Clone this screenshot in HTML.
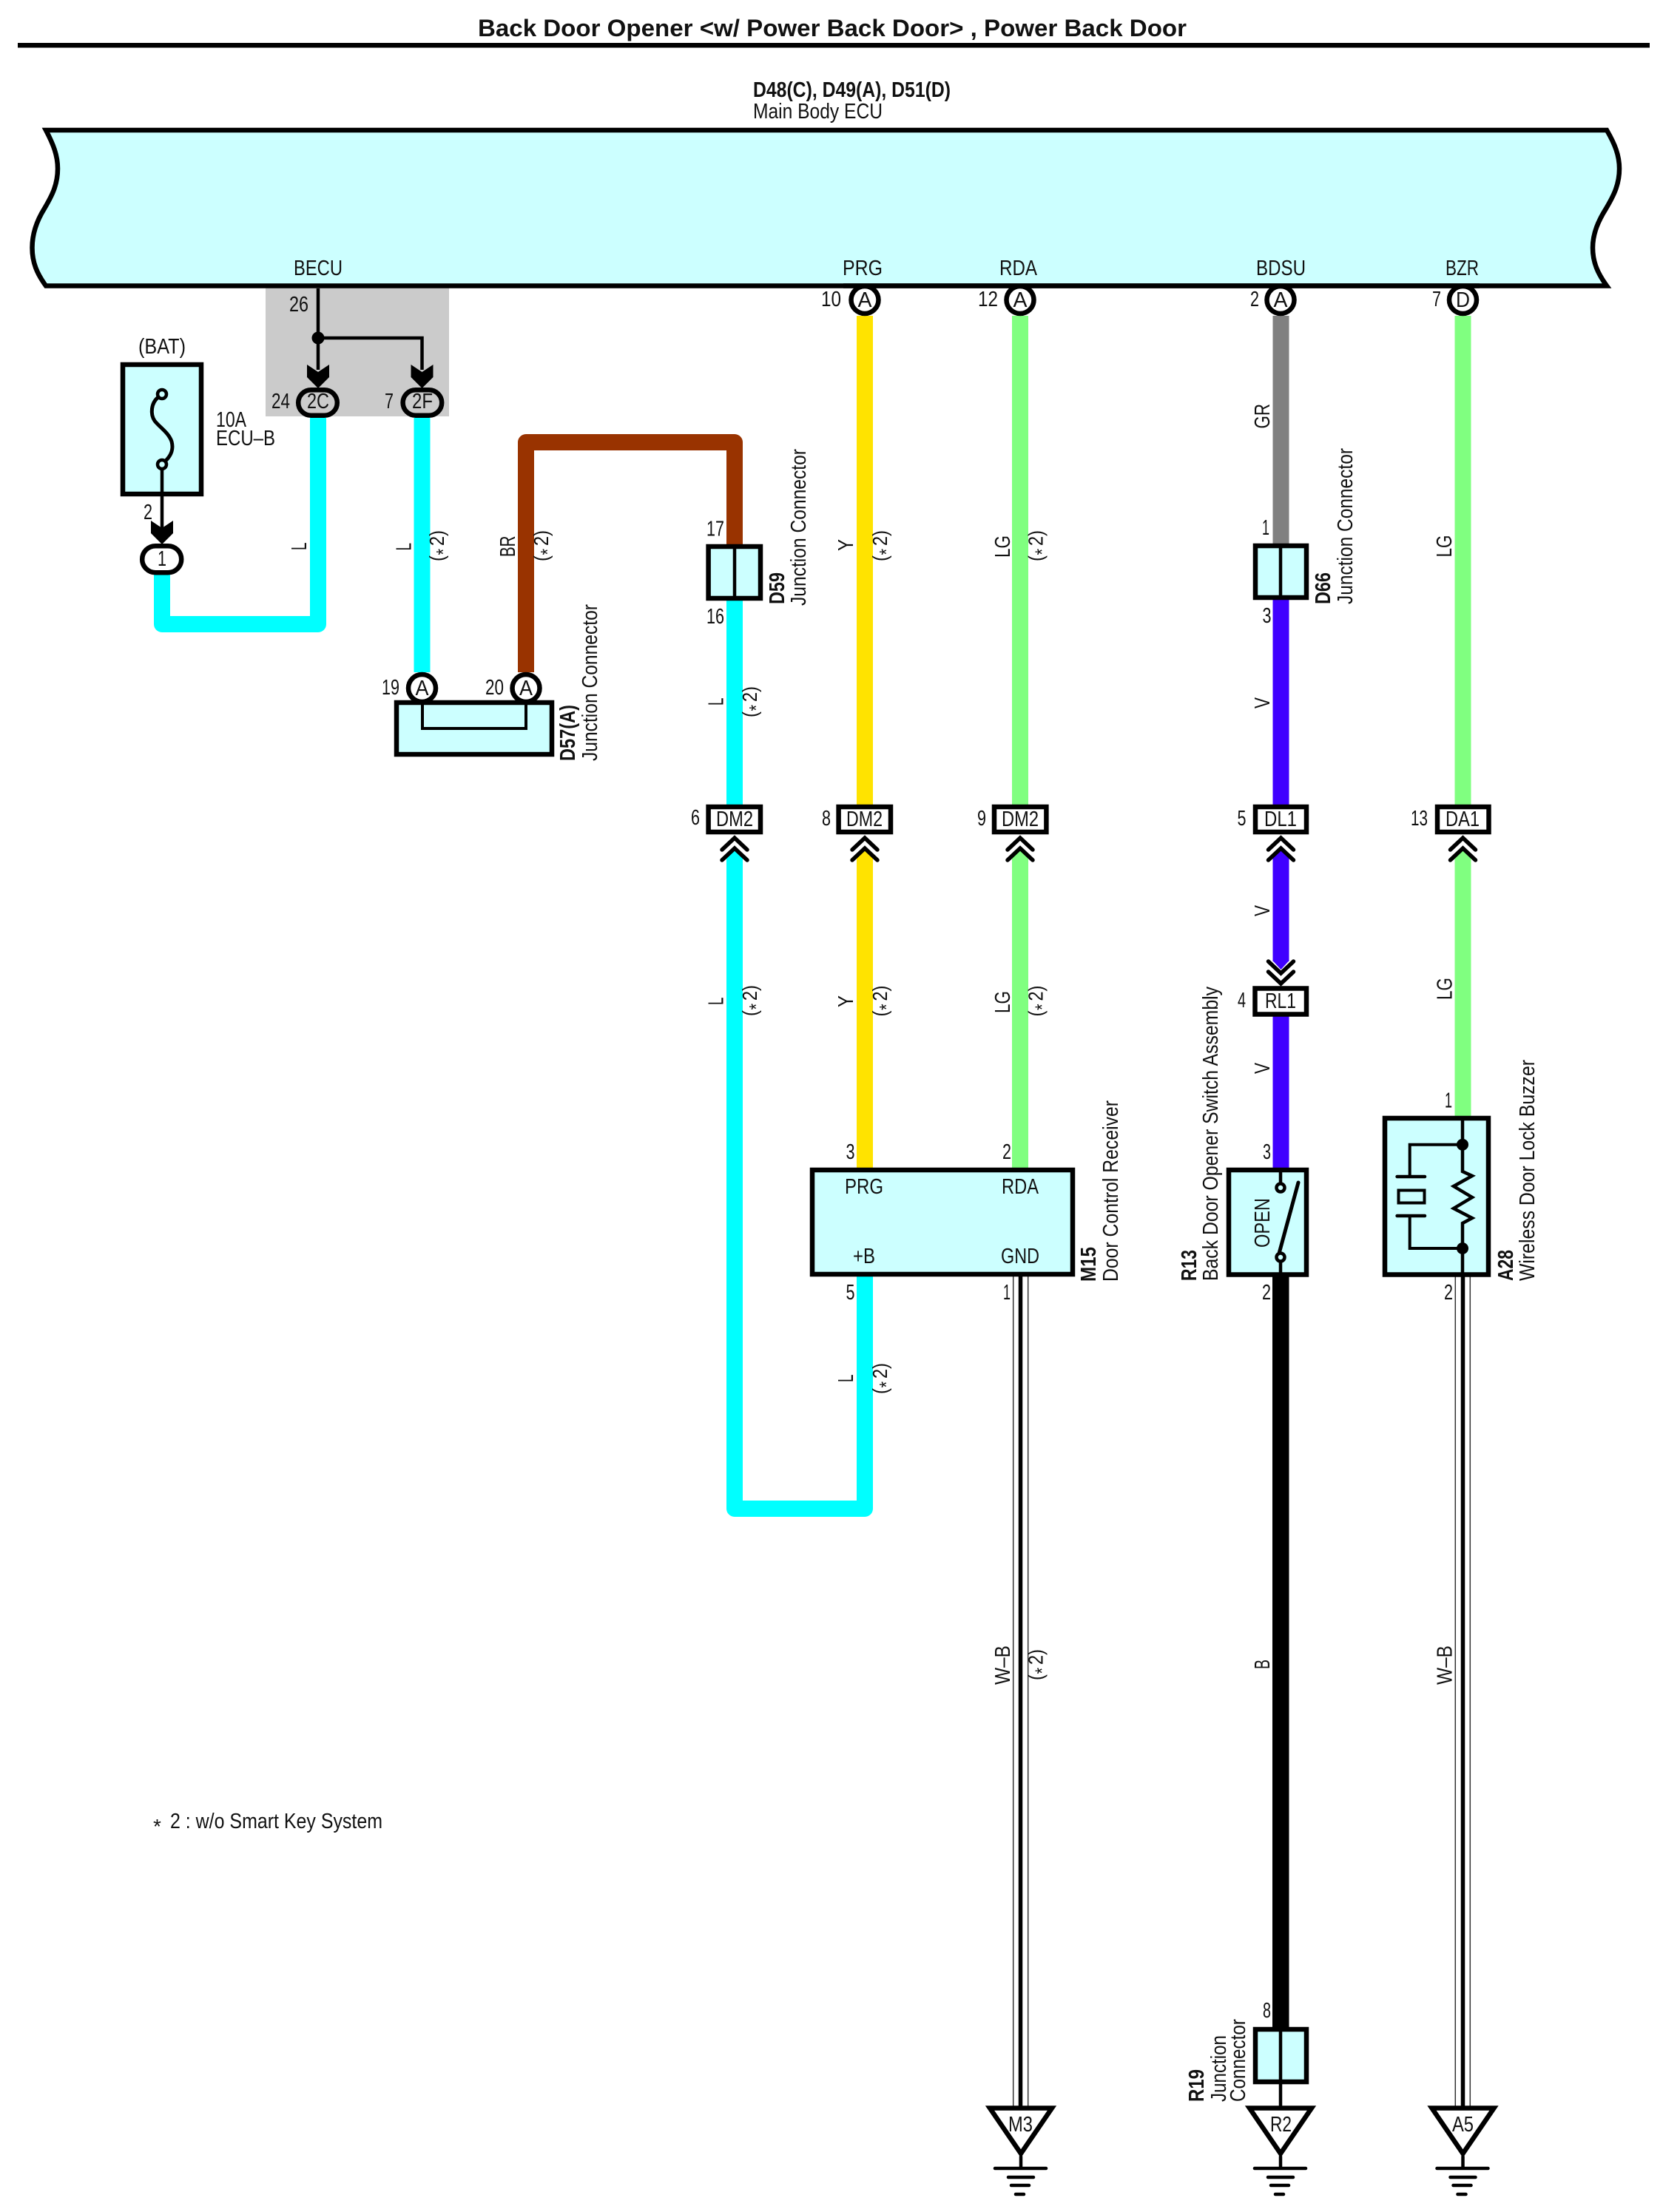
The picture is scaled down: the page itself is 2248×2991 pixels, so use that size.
<!DOCTYPE html>
<html lang="en">
<head>
<meta charset="utf-8">
<title>Back Door Opener</title>
<style>
html,body{margin:0;padding:0;background:#fff}
svg{display:block}
text{font-family:"Liberation Sans",Arial,sans-serif;font-size:29px;fill:#111}
.b{font-weight:bold}
.m{text-anchor:middle}
.w{fill:none;stroke-width:22;stroke-linejoin:round}
.x{stroke:#000;stroke-width:6.5;stroke-linejoin:miter}
.c{fill:none;stroke:#000;stroke-width:5.5;stroke-linecap:round}
.g{stroke:#000;stroke-width:4.5;stroke-linecap:round;fill:none}
.s{font-size:28px}
.a{font-size:26px}
</style>
</head>
<body>
<svg xmlns="http://www.w3.org/2000/svg" width="2248" height="2991" viewBox="0 0 2248 2991">
<rect width="2248" height="2991" fill="#fff"/>

<!-- title -->
<text class="b" x="646" y="49" style="font-size:32px" textLength="958" lengthAdjust="spacingAndGlyphs">Back Door Opener &lt;w/ Power Back Door&gt; , Power Back Door</text>
<rect x="24" y="58" width="2206" height="6.5" fill="#000"/>
<text class="b" x="1018" y="131" textLength="267" lengthAdjust="spacingAndGlyphs">D48(C), D49(A), D51(D)</text>
<text x="1018" y="160" textLength="175" lengthAdjust="spacingAndGlyphs">Main Body ECU</text>

<!-- grey shade -->
<rect x="359" y="388" width="248" height="175" fill="#cbcbcb"/>

<!-- wires -->
<path class="w" stroke="#00ffff" d="M219 777V844H430V565"/>
<path class="w" stroke="#00ffff" d="M570.5 565V909"/>
<path class="w" stroke="#993300" d="M711 909V598H993V736"/>
<path class="w" stroke="#00ffff" d="M993 812V1088"/>
<path class="w" stroke="#ffe300" d="M1169 427V1088"/>
<path class="w" stroke="#80ff80" d="M1379 427V1088"/>
<path class="w" stroke="#808080" d="M1731.5 427V735"/>
<path class="w" stroke="#4000ff" d="M1731.5 811V1088"/>
<path class="w" stroke="#80ff80" d="M1977.5 427V1088"/>

<!-- lower wires with tips -->
<path class="w" stroke="#00ffff" d="M993 1160V2040H1169V1726"/>
<polygon fill="#00ffff" points="982,1161 993,1150 1004,1161"/>
<path class="w" stroke="#ffe300" d="M1169 1160V1579"/>
<polygon fill="#ffe300" points="1158,1161 1169,1150 1180,1161"/>
<path class="w" stroke="#80ff80" d="M1379 1160V1579"/>
<polygon fill="#80ff80" points="1368,1161 1379,1150 1390,1161"/>
<path class="w" stroke="#4000ff" d="M1731.5 1160V1300"/>
<polygon fill="#4000ff" points="1720.5,1161 1731.5,1150 1742.5,1161"/>
<polygon fill="#4000ff" points="1720.5,1299 1742.5,1299 1731.5,1311"/>
<path class="w" stroke="#4000ff" d="M1731.5 1374V1579"/>
<path class="w" stroke="#80ff80" d="M1977.5 1160V1509"/>
<polygon fill="#80ff80" points="1966.5,1161 1977.5,1150 1988.5,1161"/>
<rect x="1720" y="1726" width="22.5" height="1016" fill="#000"/>

<!-- W-B wires -->
<path d="M1369.7 1726V2848M1389.7 1726V2848M1967.3 1726V2848M1987.3 1726V2848" stroke="#333" stroke-width="1.5" fill="none"/>
<path d="M1379.5 1726V2848M1977.5 1726V2848" stroke="#000" stroke-width="5.5" fill="none"/>

<!-- ECU -->
<path class="x" fill="#ccffff" d="M62 176H2172C2183 195 2189 210 2189 228C2189 250 2181 265 2171 282C2161 298 2153 315 2153 335C2153 355 2160 370 2172 386.5H62C50 370 43.5 355 43.5 335C43.5 315 50 298 60 282C70 265 78 250 78 228C78 210 72 195 62 176Z"/>
<text x="397" y="372" textLength="66" lengthAdjust="spacingAndGlyphs">BECU</text>
<text x="1139" y="372" textLength="54" lengthAdjust="spacingAndGlyphs">PRG</text>
<text x="1351" y="372" textLength="51" lengthAdjust="spacingAndGlyphs">RDA</text>
<text x="1698" y="372" textLength="67" lengthAdjust="spacingAndGlyphs">BDSU</text>
<text x="1954" y="372" textLength="45" lengthAdjust="spacingAndGlyphs">BZR</text>

<!-- BECU branch -->
<path d="M430 390V500M430 457H570.5V500" stroke="#000" stroke-width="4.5" fill="none"/>
<circle cx="430" cy="457" r="8.5" fill="#000"/>
<text x="391" y="421" textLength="26" lengthAdjust="spacingAndGlyphs">26</text>
<polygon points="415,493 430,503 445,493 445,510 430,525 415,510" fill="#000"/>
<polygon points="555.5,493 570.5,503 585.5,493 585.5,510 570.5,525 555.5,510" fill="#000"/>
<rect x="403.2" y="527.2" width="52.6" height="34.6" rx="17.3" fill="#cbcbcb" class="x"/>
<rect x="544.6" y="527.2" width="52.6" height="34.6" rx="17.3" fill="#cbcbcb" class="x"/>
<text x="415" y="552" textLength="30" lengthAdjust="spacingAndGlyphs">2C</text>
<text x="557" y="552" textLength="28" lengthAdjust="spacingAndGlyphs">2F</text>
<text x="367" y="552" textLength="25" lengthAdjust="spacingAndGlyphs">24</text>
<text x="520" y="552" textLength="12" lengthAdjust="spacingAndGlyphs">7</text>

<!-- Fuse -->
<rect x="166" y="493" width="106" height="175" fill="#ccffff" class="x"/>
<path d="M214 537C204 545 203 560 209 569C216 578 228 585 232 597C235 608 231 616 224 623" fill="none" stroke="#000" stroke-width="5"/>
<circle cx="219" cy="533" r="6" fill="#ccffff" stroke="#000" stroke-width="4.5"/>
<circle cx="219" cy="628" r="6" fill="#ccffff" stroke="#000" stroke-width="4.5"/>
<path d="M219 634V715" stroke="#000" stroke-width="4.5"/>
<polygon points="204,704 219,714 234,704 234,721 219,736 204,721" fill="#000"/>
<rect x="192.2" y="738.2" width="53" height="36" rx="18" fill="#fff" class="x"/>
<text x="187" y="478" textLength="64" lengthAdjust="spacingAndGlyphs">(BAT)</text>
<text x="292" y="577" textLength="41" lengthAdjust="spacingAndGlyphs">10A</text>
<text x="292" y="602" textLength="80" lengthAdjust="spacingAndGlyphs">ECU–B</text>
<text x="194" y="702" textLength="12" lengthAdjust="spacingAndGlyphs">2</text>
<text x="213" y="765" textLength="12" lengthAdjust="spacingAndGlyphs">1</text>

<!-- ECU pins -->
<circle cx="1169" cy="405.5" r="18.5" fill="#fff" class="x"/>
<circle cx="1379" cy="405.5" r="18.5" fill="#fff" class="x"/>
<circle cx="1731" cy="405.5" r="18.5" fill="#fff" class="x"/>
<circle cx="1977.5" cy="405.5" r="18.5" fill="#fff" class="x"/>
<path d="M1140 386.5H2000" stroke="#000" stroke-width="6.5"/>
<text class="m" x="1169" y="415" textLength="19" lengthAdjust="spacingAndGlyphs">A</text>
<text class="m" x="1379" y="415" textLength="19" lengthAdjust="spacingAndGlyphs">A</text>
<text class="m" x="1731" y="415" textLength="19" lengthAdjust="spacingAndGlyphs">A</text>
<text class="m" x="1977.5" y="415" textLength="19" lengthAdjust="spacingAndGlyphs">D</text>
<text x="1110" y="414" textLength="27" lengthAdjust="spacingAndGlyphs">10</text>
<text x="1322" y="414" textLength="27" lengthAdjust="spacingAndGlyphs">12</text>
<text x="1690" y="414" textLength="12" lengthAdjust="spacingAndGlyphs">2</text>
<text x="1936" y="414" textLength="12" lengthAdjust="spacingAndGlyphs">7</text>

<!-- D57 -->
<rect x="536" y="950" width="210" height="70" fill="#ccffff" class="x"/>
<path d="M571 947V985H711V947" fill="none" stroke="#000" stroke-width="4"/>
<circle cx="570.5" cy="930.5" r="18.5" fill="#fff" class="x"/>
<circle cx="711" cy="930.5" r="18.5" fill="#fff" class="x"/>
<text class="m" x="570.5" y="940" textLength="18" lengthAdjust="spacingAndGlyphs">A</text>
<text class="m" x="711" y="940" textLength="18" lengthAdjust="spacingAndGlyphs">A</text>
<text x="516" y="939" textLength="24" lengthAdjust="spacingAndGlyphs">19</text>
<text x="656" y="939" textLength="25" lengthAdjust="spacingAndGlyphs">20</text>
<text class="b" transform="translate(777,1029) rotate(-90)" textLength="76" lengthAdjust="spacingAndGlyphs">D57(A)</text>
<text transform="translate(807,1029) rotate(-90)" textLength="212" lengthAdjust="spacingAndGlyphs">Junction Connector</text>

<!-- D59 -->
<rect x="957.6" y="739" width="70.4" height="70" fill="#ccffff" class="x"/>
<path d="M993 736V812" stroke="#000" stroke-width="4.5"/>
<text x="955" y="724.5" textLength="24" lengthAdjust="spacingAndGlyphs">17</text>
<text x="955" y="843" textLength="24" lengthAdjust="spacingAndGlyphs">16</text>
<text class="b" transform="translate(1060,817) rotate(-90)" textLength="43" lengthAdjust="spacingAndGlyphs">D59</text>
<text transform="translate(1089,819) rotate(-90)" textLength="212" lengthAdjust="spacingAndGlyphs">Junction Connector</text>

<!-- D66 -->
<rect x="1697" y="738" width="69" height="70" fill="#ccffff" class="x"/>
<path d="M1731 735V811" stroke="#000" stroke-width="4.5"/>
<text x="1706" y="723" textLength="10" lengthAdjust="spacingAndGlyphs">1</text>
<text x="1706.5" y="842" textLength="12" lengthAdjust="spacingAndGlyphs">3</text>
<text class="b" transform="translate(1798,817) rotate(-90)" textLength="43" lengthAdjust="spacingAndGlyphs">D66</text>
<text transform="translate(1828,817) rotate(-90)" textLength="211" lengthAdjust="spacingAndGlyphs">Junction Connector</text>

<!-- in-line connector boxes -->
<rect x="957.6" y="1091" width="70.4" height="34" fill="#fff" class="x"/>
<rect x="1133.6" y="1091" width="70.4" height="34" fill="#fff" class="x"/>
<rect x="1344" y="1091" width="70.4" height="34" fill="#fff" class="x"/>
<rect x="1697" y="1091" width="69" height="34" fill="#fff" class="x"/>
<rect x="1943" y="1091" width="69.5" height="34" fill="#fff" class="x"/>
<rect x="1696.5" y="1336.5" width="69.5" height="35" fill="#fff" class="x"/>
<text x="968" y="1117" textLength="50" lengthAdjust="spacingAndGlyphs">DM2</text>
<text x="1144" y="1117" textLength="49" lengthAdjust="spacingAndGlyphs">DM2</text>
<text x="1354" y="1117" textLength="50" lengthAdjust="spacingAndGlyphs">DM2</text>
<text x="1709" y="1117" textLength="44" lengthAdjust="spacingAndGlyphs">DL1</text>
<text x="1954" y="1117" textLength="46" lengthAdjust="spacingAndGlyphs">DA1</text>
<text x="1710" y="1363" textLength="42" lengthAdjust="spacingAndGlyphs">RL1</text>
<text x="934" y="1115" textLength="12" lengthAdjust="spacingAndGlyphs">6</text>
<text x="1111" y="1116" textLength="12" lengthAdjust="spacingAndGlyphs">8</text>
<text x="1321" y="1116" textLength="12" lengthAdjust="spacingAndGlyphs">9</text>
<text x="1672.5" y="1116" textLength="12" lengthAdjust="spacingAndGlyphs">5</text>
<text x="1907" y="1116" textLength="23" lengthAdjust="spacingAndGlyphs">13</text>
<text x="1673" y="1362" textLength="11" lengthAdjust="spacingAndGlyphs">4</text>

<!-- chevrons -->
<path class="c" d="M976 1149L993 1133L1010 1149M976 1163L993 1147L1010 1163"/>
<path class="c" d="M1152 1149L1169 1133L1186 1149M1152 1163L1169 1147L1186 1163"/>
<path class="c" d="M1362 1149L1379 1133L1396 1149M1362 1163L1379 1147L1396 1163"/>
<path class="c" d="M1714.5 1149L1731.5 1133L1748.5 1149M1714.5 1163L1731.5 1147L1748.5 1163"/>
<path class="c" d="M1960.5 1149L1977.5 1133L1994.5 1149M1960.5 1163L1977.5 1147L1994.5 1163"/>
<path class="c" d="M1714.5 1300L1731.5 1316L1748.5 1300M1714.5 1314L1731.5 1330L1748.5 1314"/>

<!-- M15 -->
<rect x="1098" y="1582" width="352" height="141" fill="#ccffff" class="x"/>
<text x="1142" y="1614" textLength="52" lengthAdjust="spacingAndGlyphs">PRG</text>
<text x="1354" y="1614" textLength="50" lengthAdjust="spacingAndGlyphs">RDA</text>
<text x="1153" y="1708" textLength="30" lengthAdjust="spacingAndGlyphs">+B</text>
<text x="1353" y="1708" textLength="52" lengthAdjust="spacingAndGlyphs">GND</text>
<text x="1143.5" y="1567" textLength="12" lengthAdjust="spacingAndGlyphs">3</text>
<text x="1355" y="1567" textLength="12" lengthAdjust="spacingAndGlyphs">2</text>
<text x="1143.5" y="1757" textLength="12" lengthAdjust="spacingAndGlyphs">5</text>
<text x="1356" y="1757" textLength="10" lengthAdjust="spacingAndGlyphs">1</text>
<text class="b" transform="translate(1481,1733) rotate(-90)" textLength="47" lengthAdjust="spacingAndGlyphs">M15</text>
<text transform="translate(1511,1733) rotate(-90)" textLength="245" lengthAdjust="spacingAndGlyphs">Door Control Receiver</text>

<!-- R13 -->
<rect x="1661" y="1582" width="105" height="141.5" fill="#ccffff" class="x"/>
<path d="M1731 1581V1601M1731 1705V1726" stroke="#000" stroke-width="4.5"/>
<circle cx="1731" cy="1606" r="5.5" fill="#ccffff" stroke="#000" stroke-width="4.5"/>
<circle cx="1731" cy="1700" r="5.5" fill="#ccffff" stroke="#000" stroke-width="4.5"/>
<path d="M1729.5 1693L1755 1599" stroke="#000" stroke-width="5" stroke-linecap="round"/>
<text transform="translate(1716,1687) rotate(-90)" textLength="67" lengthAdjust="spacingAndGlyphs">OPEN</text>
<text x="1707" y="1567" textLength="11" lengthAdjust="spacingAndGlyphs">3</text>
<text x="1706" y="1757" textLength="12" lengthAdjust="spacingAndGlyphs">2</text>
<text class="b" transform="translate(1617,1732) rotate(-90)" textLength="42" lengthAdjust="spacingAndGlyphs">R13</text>
<text transform="translate(1646,1732) rotate(-90)" textLength="398" lengthAdjust="spacingAndGlyphs">Back Door Opener Switch Assembly</text>

<!-- A28 -->
<rect x="1872" y="1512" width="140" height="211.5" fill="#ccffff" class="x"/>
<path d="M1977 1510V1584L1990 1590L1965 1604L1990 1619L1965 1634L1990 1647L1977 1654V1726" fill="none" stroke="#000" stroke-width="4.5"/>
<path d="M1977 1547.7H1905.7V1591M1905.7 1644V1688H1977" fill="none" stroke="#000" stroke-width="4"/>
<path d="M1888.6 1591H1926M1888.6 1644H1926" stroke="#000" stroke-width="4.5" stroke-linecap="round"/>
<rect x="1890.5" y="1609.5" width="35" height="17" fill="none" stroke="#000" stroke-width="4"/>
<circle cx="1977" cy="1547.7" r="8" fill="#000"/>
<circle cx="1977" cy="1688" r="8" fill="#000"/>
<text x="1953" y="1497.5" textLength="10" lengthAdjust="spacingAndGlyphs">1</text>
<text x="1952" y="1757" textLength="12" lengthAdjust="spacingAndGlyphs">2</text>
<text class="b" transform="translate(2045,1732) rotate(-90)" textLength="42" lengthAdjust="spacingAndGlyphs">A28</text>
<text transform="translate(2074,1732) rotate(-90)" textLength="299" lengthAdjust="spacingAndGlyphs">Wireless Door Lock Buzzer</text>

<!-- R19 -->
<rect x="1697" y="2744" width="69" height="71" fill="#ccffff" class="x"/>
<path d="M1731 2741V2850" stroke="#000" stroke-width="4.5"/>
<text x="1707" y="2728" textLength="11" lengthAdjust="spacingAndGlyphs">8</text>
<text class="b" transform="translate(1627,2842) rotate(-90)" textLength="44" lengthAdjust="spacingAndGlyphs">R19</text>
<text transform="translate(1657,2842) rotate(-90)" textLength="90" lengthAdjust="spacingAndGlyphs">Junction</text>
<text transform="translate(1683,2842) rotate(-90)" textLength="112" lengthAdjust="spacingAndGlyphs">Connector</text>

<!-- grounds -->
<polygon class="x" fill="#fff" points="1338,2850.5 1422,2850.5 1380,2912"/>
<polygon class="x" fill="#fff" points="1689,2850.5 1773,2850.5 1731,2912"/>
<polygon class="x" fill="#fff" points="1935.5,2850.5 2019.5,2850.5 1977.5,2912"/>
<text x="1363" y="2882" textLength="33" lengthAdjust="spacingAndGlyphs">M3</text>
<text x="1717" y="2882" textLength="29" lengthAdjust="spacingAndGlyphs">R2</text>
<text x="1963" y="2882" textLength="29" lengthAdjust="spacingAndGlyphs">A5</text>
<path class="g" d="M1380 2916V2932M1345 2932H1414M1363 2944H1397M1367 2955H1391M1373 2967H1384"/>
<path class="g" d="M1731 2916V2932M1696 2932H1765M1714 2944H1748M1718 2955H1742M1724 2967H1735"/>
<path class="g" d="M1977.5 2916V2932M1942.5 2932H2011.5M1960.5 2944H1994.5M1964.5 2955H1988.5M1970.5 2967H1981.5"/>

<!-- wire labels -->
<text transform="translate(414,744) rotate(-90)" textLength="10.5" lengthAdjust="spacingAndGlyphs">L</text>
<text transform="translate(555.5,744.5) rotate(-90)" textLength="10.5" lengthAdjust="spacingAndGlyphs">L</text>
<text transform="translate(696,753) rotate(-90)" textLength="28.5" lengthAdjust="spacingAndGlyphs">BR</text>
<text transform="translate(977.6,954) rotate(-90)" textLength="10.5" lengthAdjust="spacingAndGlyphs">L</text>
<text transform="translate(977.6,1359) rotate(-90)" textLength="10.5" lengthAdjust="spacingAndGlyphs">L</text>
<text transform="translate(1153,745) rotate(-90)" textLength="16" lengthAdjust="spacingAndGlyphs">Y</text>
<text transform="translate(1153,1362) rotate(-90)" textLength="16" lengthAdjust="spacingAndGlyphs">Y</text>
<text transform="translate(1153,1869) rotate(-90)" textLength="10.5" lengthAdjust="spacingAndGlyphs">L</text>
<text transform="translate(1365,754) rotate(-90)" textLength="30" lengthAdjust="spacingAndGlyphs">LG</text>
<text transform="translate(1365,1370) rotate(-90)" textLength="30" lengthAdjust="spacingAndGlyphs">LG</text>
<text transform="translate(1365,2278) rotate(-90)" textLength="53" lengthAdjust="spacingAndGlyphs">W–B</text>
<text transform="translate(1716,579.5) rotate(-90)" textLength="33.5" lengthAdjust="spacingAndGlyphs">GR</text>
<text transform="translate(1716,958) rotate(-90)" textLength="15" lengthAdjust="spacingAndGlyphs">V</text>
<text transform="translate(1716,1239) rotate(-90)" textLength="15" lengthAdjust="spacingAndGlyphs">V</text>
<text transform="translate(1716,1452) rotate(-90)" textLength="15" lengthAdjust="spacingAndGlyphs">V</text>
<text transform="translate(1716,2257) rotate(-90)" textLength="13" lengthAdjust="spacingAndGlyphs">B</text>
<text transform="translate(1962,753.5) rotate(-90)" textLength="30" lengthAdjust="spacingAndGlyphs">LG</text>
<text transform="translate(1962.5,1352) rotate(-90)" textLength="30" lengthAdjust="spacingAndGlyphs">LG</text>
<text transform="translate(1962.5,2278) rotate(-90)" textLength="53" lengthAdjust="spacingAndGlyphs">W–B</text>

<!-- (*2) markers -->
<g transform="translate(600,759) rotate(-90) scale(.85,1)"><text class="s" x="0" y="0">(</text><text class="a" x="10" y="8">*</text><text class="s" x="24.5" y="0">2</text><text class="s" x="40" y="0">)</text></g>
<g transform="translate(741,759) rotate(-90) scale(.85,1)"><text class="s" x="0" y="0">(</text><text class="a" x="10" y="8">*</text><text class="s" x="24.5" y="0">2</text><text class="s" x="40" y="0">)</text></g>
<g transform="translate(1023,970) rotate(-90) scale(.85,1)"><text class="s" x="0" y="0">(</text><text class="a" x="10" y="8">*</text><text class="s" x="24.5" y="0">2</text><text class="s" x="40" y="0">)</text></g>
<g transform="translate(1023,1374) rotate(-90) scale(.85,1)"><text class="s" x="0" y="0">(</text><text class="a" x="10" y="8">*</text><text class="s" x="24.5" y="0">2</text><text class="s" x="40" y="0">)</text></g>
<g transform="translate(1199,759) rotate(-90) scale(.85,1)"><text class="s" x="0" y="0">(</text><text class="a" x="10" y="8">*</text><text class="s" x="24.5" y="0">2</text><text class="s" x="40" y="0">)</text></g>
<g transform="translate(1199,1374.5) rotate(-90) scale(.85,1)"><text class="s" x="0" y="0">(</text><text class="a" x="10" y="8">*</text><text class="s" x="24.5" y="0">2</text><text class="s" x="40" y="0">)</text></g>
<g transform="translate(1199,1885) rotate(-90) scale(.85,1)"><text class="s" x="0" y="0">(</text><text class="a" x="10" y="8">*</text><text class="s" x="24.5" y="0">2</text><text class="s" x="40" y="0">)</text></g>
<g transform="translate(1409.5,759) rotate(-90) scale(.85,1)"><text class="s" x="0" y="0">(</text><text class="a" x="10" y="8">*</text><text class="s" x="24.5" y="0">2</text><text class="s" x="40" y="0">)</text></g>
<g transform="translate(1409.5,1374.5) rotate(-90) scale(.85,1)"><text class="s" x="0" y="0">(</text><text class="a" x="10" y="8">*</text><text class="s" x="24.5" y="0">2</text><text class="s" x="40" y="0">)</text></g>
<g transform="translate(1409.5,2272) rotate(-90) scale(.85,1)"><text class="s" x="0" y="0">(</text><text class="a" x="10" y="8">*</text><text class="s" x="24.5" y="0">2</text><text class="s" x="40" y="0">)</text></g>

<!-- footnote -->
<text x="207" y="2479" style="font-size:28px">*</text>
<text x="230" y="2472" textLength="287" lengthAdjust="spacingAndGlyphs">2 : w/o Smart Key System</text>
</svg>
</body>
</html>
